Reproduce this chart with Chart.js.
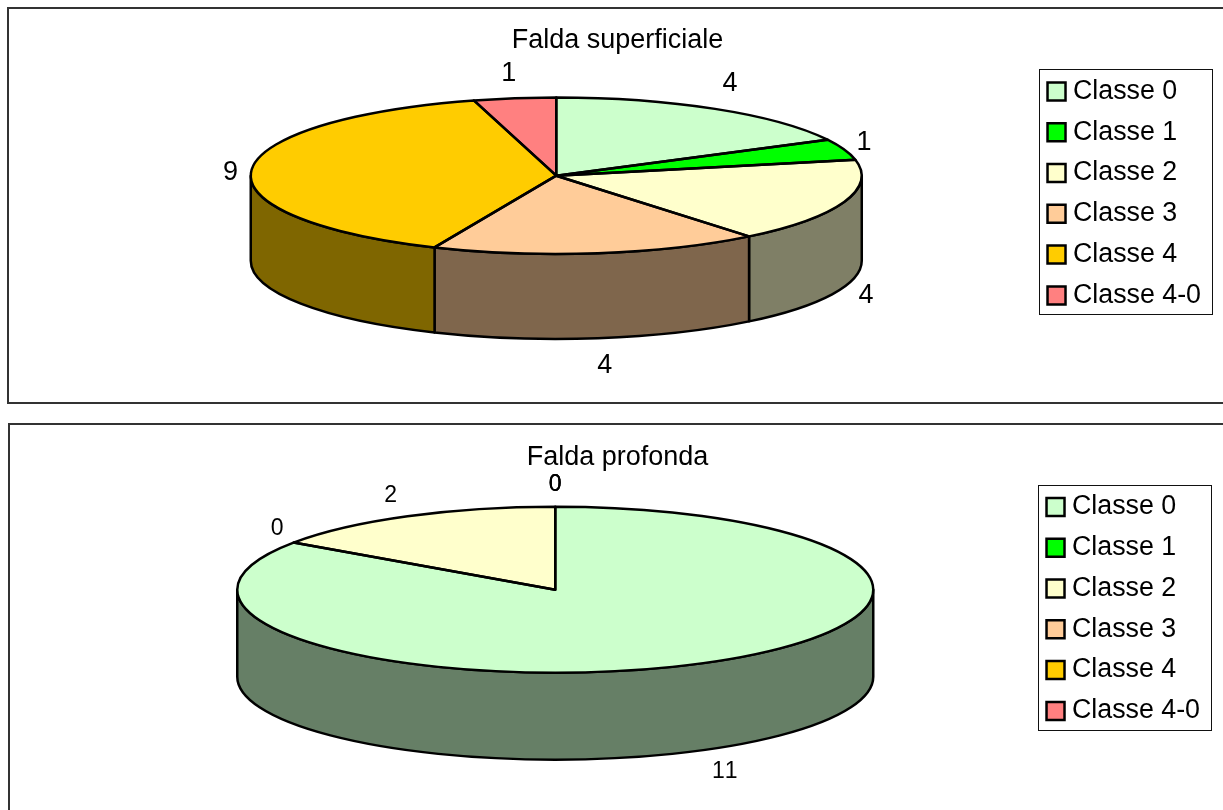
<!DOCTYPE html>
<html>
<head>
<meta charset="UTF-8">
<title>Falda superficiale / Falda profonda</title>
<script src="https://cdn.jsdelivr.net/npm/chart.js@4.4.1/dist/chart.umd.min.js"></script>
<style>
  html, body { margin: 0; height: 100%; background: #fff; overflow: hidden; }
  .frame { position: absolute; box-sizing: border-box; border: 2px solid #333; background: #fff; }
  #frameTop { left: 7px; top: 7px; width: 1300px; height: 397px; }
  #frameBottom { left: 8px; top: 423px; width: 1300px; height: 500px; }
  canvas { position: absolute; }
  #chartTop { left: 9px; top: 9px; }
  #chartBottom { left: 10px; top: 425px; }
</style>
</head>
<body>
<div class="frame" id="frameTop"></div>
<div class="frame" id="frameBottom"></div>
<canvas id="chartTop" width="1214" height="394"></canvas>
<canvas id="chartBottom" width="1213" height="385"></canvas>
<script>
const categories = ['Classe 0', 'Classe 1', 'Classe 2', 'Classe 3', 'Classe 4', 'Classe 4-0'];
const superficialeValues = [4, 1, 4, 4, 9, 1];
const profondaValues = [11, 0, 2, 0, 0, 0];
const sliceColors = ['#ccffcc', '#00ff00', '#ffffcc', '#ffcc99', '#ffcc00', '#ff8080'];

const FONT = '"Liberation Sans", Arial, sans-serif';
const LINE = 2.5;

// side walls use the slice colour at half brightness
function halfTone(hex) {
  const n = parseInt(hex.slice(1), 16);
  const r = (n >> 16) >> 1, g = ((n >> 8) & 255) >> 1, b = (n & 255) >> 1;
  return `rgb(${r}, ${g}, ${b})`;
}

// Chart.js has no 3D pie, so squash the flat one and add the wall around it
const pie3d = {
  id: 'pie3d',

  afterLayout(chart, args, opts) {
    // title and legend sit independently of the pie centre
    const title = chart.titleBlock;
    const half = title.width / 2;
    title.left = opts.titleX - half;
    title.right = opts.titleX + half;
    const legend = chart.legend;
    const dy = opts.legendTop - legend.top;
    legend.top += dy;
    legend.bottom += dy;
    legend.legendHitBoxes.forEach((b) => { b.top += dy; });
  },

  beforeDatasetsDraw(chart, args, opts) {
    const { ctx } = chart;
    const arcs = chart.getDatasetMeta(0).data;
    ctx.save();
    ctx.lineWidth = LINE;
    ctx.strokeStyle = '#000';
    ctx.lineJoin = 'round';
    arcs.forEach((arc, i) => {
      // only the front half of the rim is visible
      const { x, y, startAngle, endAngle, outerRadius } = arc.getProps(['x', 'y', 'startAngle', 'endAngle', 'outerRadius'], true);
      const from = Math.max(startAngle, 0);
      const to = Math.min(endAngle, Math.PI);
      if (to <= from) return;
      const ry = outerRadius * opts.ratio;
      ctx.beginPath();
      ctx.ellipse(x, y, outerRadius, ry, 0, from, to);
      ctx.ellipse(x, y + opts.depth, outerRadius, ry, 0, to, from, true);
      ctx.closePath();
      ctx.fillStyle = halfTone(sliceColors[i]);
      ctx.fill();
      ctx.stroke();
    });
    ctx.restore();

    const c = arcs[0].getProps(['x', 'y'], true);
    ctx.save();
    ctx.translate(c.x, c.y);
    ctx.scale(1, opts.ratio);
    ctx.translate(-c.x, -c.y);
  },

  afterDatasetsDraw(chart, args, opts) {
    const { ctx } = chart;
    ctx.restore();
    const arcs = chart.getDatasetMeta(0).data;
    const values = chart.data.datasets[0].data;

    // outlines are stroked outside the squash so the line stays even
    ctx.save();
    ctx.lineWidth = LINE;
    ctx.strokeStyle = '#000';
    ctx.lineJoin = 'round';
    arcs.forEach((arc) => {
      const { x, y, startAngle, endAngle, outerRadius } = arc.getProps(['x', 'y', 'startAngle', 'endAngle', 'outerRadius'], true);
      if (endAngle <= startAngle) return;
      ctx.beginPath();
      ctx.moveTo(x, y);
      ctx.ellipse(x, y, outerRadius, outerRadius * opts.ratio, 0, startAngle, endAngle);
      ctx.closePath();
      ctx.stroke();
    });

    // value labels, pushed out from the middle of each slice
    ctx.fillStyle = '#000';
    ctx.font = `${opts.labelSize}px ${FONT}`;
    ctx.fontKerning = 'none';
    ctx.textAlign = 'center';
    ctx.textBaseline = 'middle';
    arcs.forEach((arc, i) => {
      const { x, y, startAngle, endAngle, outerRadius } = arc.getProps(['x', 'y', 'startAngle', 'endAngle', 'outerRadius'], true);
      const mid = (startAngle + endAngle) / 2;
      const nudge = opts.labelNudge[i];
      const lx = x + (outerRadius + opts.labelGapX) * Math.cos(mid) + nudge[0];
      let ly = y + outerRadius * opts.ratio * Math.sin(mid) + opts.labelGapY * Math.sin(mid) + nudge[1];
      if (Math.sin(mid) > 0) ly += opts.depth;
      ctx.fillText(String(values[i]), lx, ly);
    });
    ctx.restore();
  },

  afterDraw(chart) {
    // box around the legend entries
    const { ctx, legend } = chart;
    const boxes = legend.legendHitBoxes;
    const first = boxes[0];
    const last = boxes[boxes.length - 1];
    const right = Math.max(...boxes.map((b) => b.left + b.width));
    const x0 = Math.round(first.left - 15) + 0.5;
    const y0 = Math.round(first.top - 8.6) + 0.5;
    const x1 = Math.round(right + 11) + 0.5;
    const y1 = Math.round(last.top + last.height + 5.6) + 0.5;
    ctx.save();
    ctx.lineWidth = 1;
    ctx.strokeStyle = '#111';
    ctx.strokeRect(x0, y0, x1 - x0, y1 - y0);
    ctx.restore();
  }
};

function makeChart(id, titleText, values, layout) {
  return new Chart(document.getElementById(id), {
    type: 'pie',
    data: {
      labels: categories,
      datasets: [{
        data: values,
        backgroundColor: sliceColors,
        borderColor: '#000',
        borderWidth: 0,
        radius: layout.radius,
        clip: false
      }]
    },
    options: {
      responsive: false,
      animation: false,
      layout: { padding: layout.padding },
      plugins: {
        tooltip: { enabled: false },
        title: {
          display: true,
          text: titleText,
          color: '#000',
          font: { family: FONT, size: 27, weight: 'normal', lineHeight: 1.2 },
          padding: { top: layout.titleTop, bottom: layout.titleBottom }
        },
        legend: {
          position: 'right',
          align: 'start',
          labels: {
            color: '#000',
            font: { family: FONT, size: 26.8, lineHeight: 1.2 },
            usePointStyle: true,
            pointStyle: 'rect',
            boxWidth: 6,
            boxHeight: 18,
            padding: 14,
            generateLabels(chart) {
              const items = Chart.overrides.pie.plugins.legend.labels.generateLabels(chart);
              items.forEach((item) => { item.lineWidth = LINE; item.strokeStyle = '#000'; });
              return items;
            }
          }
        },
        pie3d: layout.pie3d
      }
    },
    plugins: [pie3d]
  });
}

makeChart('chartTop', 'Falda superficiale', superficialeValues, {
  radius: 305.5,
  padding: { left: 64, right: 12, top: 0, bottom: 108 },
  titleTop: 15,
  titleBottom: 0,
  pie3d: {
    ratio: 0.256, depth: 85, titleX: 608.5, legendTop: 55, labelSize: 27, labelGapX: 21, labelGapY: 27,
    labelNudge: [[4, -2], [0, 2], [2, 0], [4, 1], [0, 4], [-3, 2]]
  }
});

makeChart('chartBottom', 'Falda profonda', profondaValues, {
  radius: 318,
  padding: { left: 62, right: 13, top: 0, bottom: 104 },
  titleTop: 16,
  titleBottom: 0,
  pie3d: {
    ratio: 0.261, depth: 87, titleX: 607.5, legendTop: 54.5, labelSize: 23, labelGapX: 21, labelGapY: 27,
    labelNudge: [[12, -2], [1, 1], [-7, 3], [0, 5], [0, 5], [0, 5]]
  }
});
</script>
</body>
</html>
